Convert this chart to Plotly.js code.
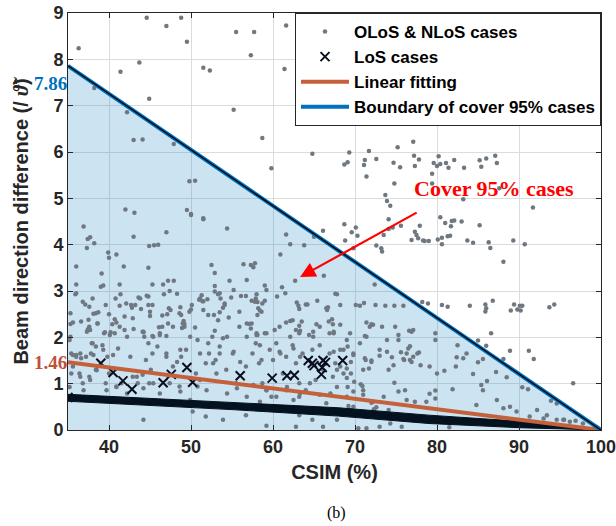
<!DOCTYPE html>
<html>
<head>
<meta charset="utf-8">
<script src="https://cdn.plot.ly/plotly-3.0.1.min.js"></script>
<style>html,body{margin:0;padding:0;background:#fff;}#chart{width:616px;height:526px;}</style>
</head>
<body>
<div id="chart"></div>
<script>
// ---------- data ----------
// OLoS & NLoS cases: CSIM (%) and beam direction difference
const olosX = [
 36.3,44.6,48.8,47.0,49.5,55.5,57.7,57.3,61.6,61.4,43.7,41.4,51.5,52.3,44.9,42.2,55.2,43.0,44.1,47.9,58.7,59.8,49.8,50.5,42.0,43.1,49.5,50.0,51.5,38.2,
 64.8,69.3,71.7,75.2,77.1,68.7,69.1,71.2,71.1,72.6,74.7,75.5,77.2,77.8,77.3,71.4,74.8,79.6,80.2,80.0,80.4,81.1,81.4,82.1,83.3,85.2,85.4,86.0,87.1,87.3,79.4,79.4,87.6,83.2,73.7,73.9,74.3,91.7,74.1,80.4,81.0,81.8,81.7,83.0,85.2,75.6,77.9,82.1,
 68.7,70.1,69.6,70.3,68.8,69.8,72.6,73.2,73.3,73.5,74.1,74.6,76.9,77.3,66.1,65.0,61.6,62.1,63.8,60.9,
 77.5,77.7,78.3,78.5,79.0,80.1,80.6,81.3,81.6,80.6,83.7,84.4,86.3,86.5,89.3,90.7,88.1,
 78.2,78.9,80.6,81.3,84.0,85.9,86.0,85.9,86.8,89.0,89.4,89.8,90.2,90.1,90.4,93.7,94.3,79.8,86.6,
 56.4,57.3,57.6,57.8,56.8,62.7,66.2,59.0,59.2,61.1,61.5,56.1,56.7,58.0,57.9,57.4,57.8,58.1,58.7,59.0,58.2,58.6,58.4,60.5,
 62.9,63.1,63.2,64.0,64.2,65.4,67.6,67.8,66.5,66.7,66.6,68.2,70.1,70.6,71.1,72.5,73.7,74.8,75.9,72.4,
 56.8,57.4,58.1,61.6,62.1,62.4,63.2,63.5,63.3,65.3,66.8,67.3,67.2,68.2,71.4,72.0,72.2,73.3,74.9,76.9,77.1,64.9,67.4,69.4,59.0,58.0,
 36.9,37.4,37.7,37.3,38.2,43.0,47.0,50.0,51.5,54.4,39.9,40.0,40.9,44.9,45.5,46.0,36.0,41.8,44.8,39.1,36.0,39.0,39.3,41.3,45.3,46.6,47.2,47.9,52.5,52.9,54.7,52.9,
 35.9,38.0,36.8,37.1,37.6,38.1,38.4,38.7,39.6,40.0,40.8,41.4,41.3,42.1,42.7,42.8,43.2,41.9,43.6,43.8,44.6,44.8,44.8,45.3,45.0,45.0,43.9,46.7,47.4,48.3,
 46.5,47.1,47.3,47.5,48.7,48.6,48.8,49.1,49.2,48.9,49.8,50.0,50.1,50.5,51.1,51.3,51.0,51.4,51.5,52.0,51.5,52.1,52.8,52.9,53.3,53.5,53.6,53.9,54.1,54.1,
 53.5,53.3,54.6,54.9,55.2,55.9,52.9,35.3,36.6,37.5,37.5,37.7,38.6,39.5,40.2,40.4,40.7,40.9,42.9,43.0,44.2,46.1,46.2,47.2,36.0,35.3,35.3,
 35.6,37.4,37.6,38.6,39.4,40.7,41.3,41.9,44.1,44.3,45.3,46.5,47.0,47.8,49.0,49.2,50.8,52.6,53.9,55.9,57.1,57.3,58.1,59.2,60.2,60.8,62.8,63.2,64.4,65.7,66.9,
 35.4,36.0,36.6,37.2,38.0,38.4,37.8,39.2,39.8,40.0,38.4,37.6,36.8,35.6,36.4,39.6,40.9,41.5,42.9,43.5,44.1,44.5,45.3,45.9,45.1,44.9,47.0,47.8,48.6,48.8,
 49.4,50.6,50.8,51.8,52.2,53.0,53.5,54.3,55.1,55.5,56.7,57.5,57.9,58.3,58.7,59.2,59.8,60.0,60.8,61.2,61.6,62.4,62.8,63.2,63.6,64.0,64.8,65.2,66.1,66.9,67.3,63.2,61.6,
 44.2,59.2,62.8,66.1,51.8,53.9,56.7,50.2,63.2,64.8,
 35.2,35.6,36.0,36.5,37.3,37.9,38.1,39.3,40.1,40.5,41.1,42.2,42.6,44.2,44.8,45.4,46.2,47.0,48.3,48.7,49.9,51.1,52.1,52.7,53.5,54.4,55.2,56.0,56.8,58.0,
 58.4,58.6,59.6,60.4,60.9,62.1,62.5,63.3,64.9,65.7,67.4,68.2,69.0,69.8,70.6,71.2,72.0,73.0,73.9,
 35.4,36.5,36.9,37.7,38.5,39.7,40.9,42.2,43.4,44.2,45.4,46.2,47.4,48.7,49.9,51.1,51.9,53.1,54.4,55.6,56.8,57.6,58.4,59.2,60.4,61.7,62.5,63.3,64.5,65.7,
 66.5,67.8,69.0,69.8,71.0,72.2,73.5,74.1,35.2,
 85.0,86.0,88.9,91.2,91.8,88.1,96.6,90.4,91.1,93.9,94.6,95.5,96.9,
 82.5,83.6,82.4,83.2,85.0,85.6,84.4,87.2,88.5,86.1,85.4,81.9,80.0,80.9,79.8,79.1,79.8,82.3,79.1,78.0,77.1,77.6,77.8,76.7,76.9,76.5,76.7,76.3,76.0,75.3,
 75.3,76.6,75.6,75.9,74.5,74.7,73.9,73.0,74.1,74.8,75.3,76.1,71.4,71.2,71.8,72.0,71.3,71.7,71.0,70.7,70.9,71.0,69.9,69.8,69.5,69.0,69.1,68.6,67.8,67.6,
 67.4,68.6,69.1,69.8,69.5,68.2,69.0,
 74.3,79.1,75.7,73.0,81.5,74.5,72.3,76.3,77.3,78.7,79.8,72.0,72.6,69.2,69.4,67.8,70.4,71.4,67.0,67.0,91.3,93.0,89.7,95.4,88.1,84.8,
 87.3,85.6,88.9,92.2,93.4,94.6,96.2,97.8
];
const olosY = [
 8.24,8.90,8.90,8.72,8.38,8.59,8.59,8.09,8.73,7.79,7.93,7.73,7.82,7.76,7.15,6.86,6.91,6.26,6.27,6.17,6.30,5.65,5.37,5.38,4.76,4.69,4.75,4.66,4.57,7.38,
 5.96,5.99,6.02,6.10,6.22,5.73,5.78,5.83,5.72,5.85,5.77,5.67,5.92,5.84,5.70,5.47,5.32,5.76,5.91,5.70,5.74,5.76,5.66,5.83,5.66,5.82,5.68,5.86,5.92,5.76,5.53,5.32,5.22,4.98,5.07,4.94,4.84,4.80,4.55,4.59,4.47,4.51,4.40,4.50,4.42,4.41,4.41,4.52,
 4.44,4.37,4.27,4.19,4.09,3.92,3.98,3.92,3.85,4.21,4.34,4.37,4.10,4.28,4.30,4.17,4.22,4.01,3.99,3.79,
 4.21,4.14,4.09,4.08,4.08,4.11,4.15,4.18,4.19,4.01,4.09,4.04,4.05,3.93,4.09,4.01,3.63,
 2.76,2.73,2.70,2.66,2.68,2.71,2.63,2.56,2.79,2.58,2.71,2.60,2.58,2.68,2.68,2.65,2.71,2.09,2.09,
 3.58,3.56,3.51,3.60,3.24,3.22,3.33,3.12,3.02,3.08,2.95,2.89,2.89,2.93,2.84,2.79,2.77,2.76,2.73,2.79,2.63,2.55,2.58,2.88,
 2.75,2.68,2.61,2.71,2.71,2.79,2.94,2.93,2.63,2.65,2.59,2.70,2.70,2.68,2.74,2.70,2.68,2.68,2.68,3.14,
 2.30,2.30,2.48,2.32,2.35,2.37,2.25,2.34,2.14,2.28,2.34,2.28,2.39,2.27,2.32,2.28,2.27,2.23,2.23,2.12,2.16,2.12,2.12,2.09,2.09,2.09,
 4.39,4.12,4.16,3.93,4.03,4.17,4.27,4.64,4.55,4.35,3.83,3.72,3.79,3.97,3.99,4.00,3.53,3.53,3.50,3.38,3.14,3.09,3.12,3.14,3.14,3.14,3.22,3.22,3.56,3.39,3.22,3.11,
 2.93,2.84,2.77,2.71,2.66,2.51,2.52,2.54,2.70,2.50,2.84,2.93,2.68,2.73,2.70,2.64,2.70,2.45,2.86,2.84,2.90,2.88,2.70,2.70,2.55,2.46,2.61,2.93,3.00,2.94,
 2.47,2.50,2.63,2.59,2.65,2.52,2.48,2.35,2.29,2.20,2.55,2.60,2.70,2.21,2.84,2.91,2.81,2.78,2.78,2.82,2.59,2.48,2.48,2.99,2.93,2.95,2.84,2.64,2.70,2.73,
 2.54,2.37,2.43,2.86,3.02,2.55,2.14,2.29,2.34,2.38,2.19,2.16,2.30,2.11,2.11,2.28,2.39,2.32,2.41,2.18,2.11,2.22,2.09,2.30,2.95,2.52,2.01,
 2.32,2.16,2.23,2.30,2.09,2.09,2.23,2.16,2.12,2.01,2.03,2.23,2.03,2.23,2.30,2.23,1.94,2.01,1.98,2.23,2.29,2.19,2.05,2.09,2.16,2.23,2.16,2.09,2.05,2.23,2.09,
 1.65,1.62,1.55,1.58,1.87,1.80,1.65,1.83,1.58,1.22,1.30,1.15,1.01,1.37,1.22,1.01,0.94,1.01,1.15,1.01,1.19,1.51,1.65,1.80,1.30,1.01,1.65,1.37,0.94,1.58,
 1.73,1.22,0.94,1.44,1.65,1.51,1.80,1.30,1.65,1.01,1.37,1.65,1.87,1.44,1.01,0.86,0.72,1.51,1.69,1.22,1.58,1.83,1.44,1.01,1.65,0.86,1.73,1.08,1.30,1.65,1.15,0.72,0.86,
 0.22,0.09,0.07,0.07,0.29,0.22,0.32,0.40,0.32,0.22,
 1.94,1.62,1.58,1.65,2.12,1.87,1.62,1.73,2.05,1.62,1.76,2.01,1.58,2.12,1.87,2.01,2.05,1.58,1.47,1.73,2.01,1.65,1.87,1.44,1.65,2.01,1.69,1.47,2.01,2.05,
 1.83,1.51,1.73,1.87,1.65,2.01,1.76,1.58,2.01,1.83,2.09,1.73,1.94,1.65,1.87,1.55,1.47,1.73,1.94,
 1.22,1.15,0.86,1.08,1.29,0.86,0.93,0.79,1.15,0.90,1.01,0.79,1.01,0.83,0.65,1.08,0.86,1.22,0.79,0.90,0.72,0.97,0.61,0.86,0.72,0.93,0.65,0.79,1.01,0.76,
 0.58,0.93,0.72,0.50,0.86,0.61,0.72,0.43,0.93,
 1.93,1.82,1.71,1.71,1.53,1.53,1.01,0.92,0.88,0.63,0.57,0.22,0.20,
 1.83,1.65,1.57,1.55,1.46,1.53,1.21,1.25,1.14,1.06,0.97,0.88,1.22,1.28,0.85,0.78,1.94,1.37,1.37,1.40,1.58,1.65,1.67,1.51,1.47,1.76,1.81,1.65,1.51,2.05,
 1.94,2.14,1.68,1.53,1.57,1.40,1.69,1.60,1.30,1.02,0.83,0.86,2.01,2.03,2.23,1.50,1.51,1.33,1.30,0.99,0.95,0.76,1.04,0.83,1.22,1.12,0.93,1.22,1.30,1.44,
 1.69,1.73,1.80,1.62,1.47,1.37,1.33,
 0.14,0.22,0.07,0.07,0.06,0.29,0.45,0.65,0.61,0.61,0.68,0.59,0.49,0.52,0.43,0.22,0.04,0.04,0.79,0.40,0.29,0.25,0.40,0.22,0.47,0.54,
 0.65,0.86,0.50,0.43,0.32,0.22,0.18,0.14
];
// LoS cases
const losX = [39.0,40.5,41.7,42.8,46.6,47.6,49.5,50.2,56.0,59.9,61.7,62.6,64.3,64.8,65.0,65.9,66.1,66.4,66.0,68.5,35.0,100.0];
const losY = [1.44,1.24,1.06,0.88,1.02,1.20,1.35,1.03,1.17,1.12,1.17,1.18,1.50,1.44,1.39,1.20,1.50,1.46,1.35,1.50,0.70,0.00];
// dense band of LoS-like cases (outline of the band)
const bandX = [35, 55, 68, 79, 90, 100, 100, 90, 79, 68, 55, 35];
const bandY = [0.77, 0.60, 0.48, 0.32, 0.19, 0.02, 0.00, 0.05, 0.14, 0.30, 0.44, 0.62];
// linear fitting and 95% boundary
const fitX = [35, 100];
const fitY = [1.46, 0];
const boundX = [35, 100];
const boundY = [7.86, 0];
const coverX = [35, 35, 100];
const coverY = [0, 7.86, 0];
const xTicks = [40, 50, 60, 70, 80, 90, 100];
const yTicks = [0, 1, 2, 3, 4, 5, 6, 7, 8, 9];

const SANS = 'Liberation Sans, Arial, Helvetica, sans-serif';
const SERIF = 'Liberation Serif, Times New Roman, serif';

const traces = [
  {x: coverX, y: coverY, type: 'scatter', mode: 'lines', fill: 'toself',
   fillcolor: 'rgba(0,114,189,0.2)', line: {width: 0}, showlegend: false, hoverinfo: 'skip'},
  {x: olosX, y: olosY, type: 'scatter', mode: 'markers', name: 'OLoS &amp; NLoS cases',
   marker: {size: 4.5, color: '#6f7880'}},
  {x: bandX, y: bandY, type: 'scatter', mode: 'lines', fill: 'toself',
   fillcolor: '#04121f', line: {width: 1, color: '#04121f'}, showlegend: false, hoverinfo: 'skip'},
  {x: losX, y: losY, type: 'scatter', mode: 'markers', name: 'LoS cases',
   marker: {symbol: 'x-thin', size: 9, color: '#0a0f1e', line: {width: 2, color: '#0a0f1e'}}},
  {x: fitX, y: fitY, type: 'scatter', mode: 'lines', name: 'Linear fitting',
   line: {color: '#c4613a', width: 4}},
  {x: boundX, y: boundY, type: 'scatter', mode: 'lines', name: 'Boundary of cover 95% cases',
   line: {color: '#0072bd', width: 4}},
  {x: boundX, y: boundY, type: 'scatter', mode: 'lines', showlegend: false, hoverinfo: 'skip',
   line: {color: '#000000', width: 1.3}}
];

const axisCommon = {
  ticks: 'inside', ticklen: 5, tickwidth: 1, tickcolor: '#262626',
  mirror: 'allticks', showline: true, linecolor: '#262626', linewidth: 1,
  showgrid: true, gridcolor: '#dcdcdc', gridwidth: 1, zeroline: false,
  ticklabeloverflow: 'allow',
  tickfont: {family: SANS, size: 18, color: '#262626', weight: 'bold'}
};

const layout = {
  width: 616, height: 526,
  margin: {l: 68, r: 15, t: 13, b: 96},
  paper_bgcolor: '#ffffff', plot_bgcolor: '#ffffff',
  showlegend: true,
  xaxis: Object.assign({}, axisCommon, {
    range: [35, 100], tickmode: 'array', tickvals: xTicks, ticktext: xTicks.map(String),
    title: {text: 'CSIM (%)', font: {family: SANS, size: 20, color: '#262626', weight: 'bold'}, standoff: 9}
  }),
  yaxis: Object.assign({}, axisCommon, {
    range: [0, 9], tickmode: 'array', tickvals: yTicks, ticktext: yTicks.map(String),
    title: {text: 'Beam direction difference (/ <span style="font-family:Liberation Serif;font-style:italic">\u03D1\u0303</span>)',
            font: {family: SANS, size: 20, color: '#262626', weight: 'bold'}, standoff: 19}
  }),
  legend: {
    x: 1, xanchor: 'right', y: 1, yanchor: 'top',
    bgcolor: '#ffffff', bordercolor: '#262626', borderwidth: 1,
    font: {family: SANS, size: 17, color: '#000000', weight: 'bold'},
    itemwidth: 48
  },
  annotations: [
    {xref: 'paper', yref: 'y', x: 0, y: 7.48, xanchor: 'right', yanchor: 'middle', xshift: 1,
     text: '<b>7.86</b>', showarrow: false, font: {family: SERIF, size: 19, color: '#0072bd'}},
    {xref: 'paper', yref: 'y', x: 0, y: 1.46, xanchor: 'right', yanchor: 'middle', xshift: 1,
     text: '<b>1.46</b>', showarrow: false, font: {family: SERIF, size: 19, color: '#c0503a'}},
    {xref: 'x', yref: 'y', x: 87.0, y: 5.22, xanchor: 'center', yanchor: 'middle',
     text: '<b>Cover 95% cases</b>', showarrow: false, font: {family: SERIF, size: 22, color: '#ff0000'}},
    {xref: 'x', yref: 'y', axref: 'x', ayref: 'y', x: 63.3, y: 3.3, ax: 77.7, ay: 4.71,
     text: '', showarrow: true, arrowhead: 2, arrowsize: 1.4, arrowwidth: 2.2, arrowcolor: '#ff0000'},
    {xref: 'paper', yref: 'paper', x: 0.503, y: -0.2, xanchor: 'center', yanchor: 'middle',
     text: '(b)', showarrow: false, font: {family: SERIF, size: 16, color: '#000000'}}
  ]
};

Plotly.newPlot('chart', traces, layout, {displayModeBar: false, staticPlot: true});
</script>
</body>
</html>
